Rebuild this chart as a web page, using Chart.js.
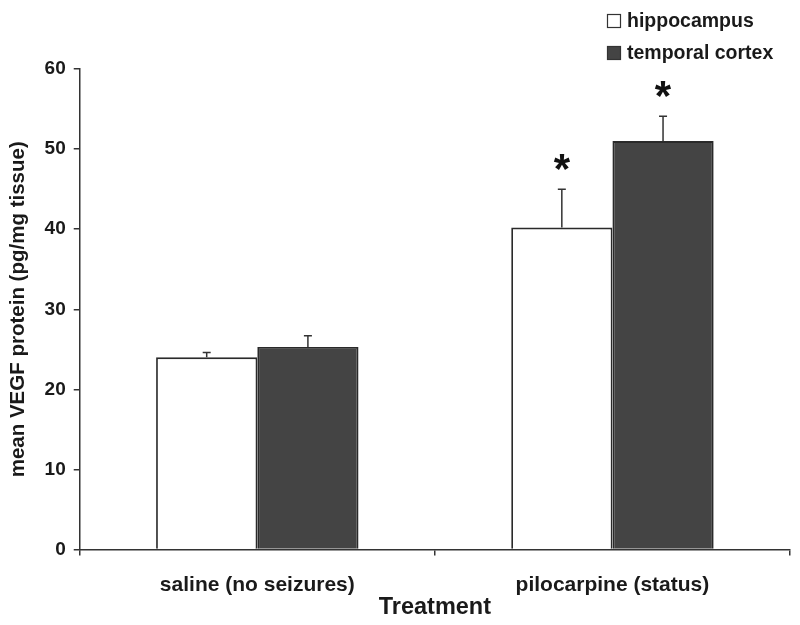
<!DOCTYPE html>
<html lang="en">
<head>
    <meta charset="UTF-8">
    <title>VEGF protein</title>
    <script src="https://cdn.jsdelivr.net/npm/chart.js"></script>
    <style>
        html, body { margin: 0; padding: 0; background: #fff; }
        #wrap { width: 800px; height: 625px; }
    </style>
</head>
<body>
    <div id="wrap"><canvas id="myChart"></canvas></div>
    <script>
        // Data
        const treatments = ['saline (no seizures)', 'pilocarpine (status)'];
        const hippocampus = [24.0, 40.2];
        const hippocampusErr = [0.6, 4.8];
        const temporalCortex = [25.3, 51.0];
        const temporalCortexErr = [1.4, 3.1];
        const hippocampusMarks = ['', '*'];
        const temporalCortexMarks = ['', '*'];

        const errors = [hippocampusErr, temporalCortexErr];
        const marks = [hippocampusMarks, temporalCortexMarks];
        const FONT = '"Liberation Sans", Arial, sans-serif';
        const INK = '#1a1a1a';

        // Upward error bars and significance stars
        const errorBars = {
            id: 'errorBars',
            afterDatasetsDraw(chart) {
                const ctx = chart.ctx;
                const y = chart.scales.y;
                chart.data.datasets.forEach(function(ds, i) {
                    const meta = chart.getDatasetMeta(i);
                    meta.data.forEach(function(bar, j) {
                        const top = y.getPixelForValue(ds.data[j] + errors[i][j]);
                        ctx.save();
                        ctx.strokeStyle = '#333';
                        ctx.lineWidth = 1.5;
                        ctx.beginPath();
                        ctx.moveTo(bar.x, bar.y);
                        ctx.lineTo(bar.x, top);
                        ctx.moveTo(bar.x - 4, top);
                        ctx.lineTo(bar.x + 4, top);
                        ctx.stroke();
                        if (marks[i][j]) {
                            ctx.fillStyle = '#111';
                            ctx.font = 'bold 42px ' + FONT;
                            ctx.textAlign = 'center';
                            ctx.textBaseline = 'middle';
                            ctx.fillText(marks[i][j], bar.x, top - 18);
                        }
                        ctx.restore();
                    });
                });
            }
        };

        // Stacked legend in the top right corner
        const stackedLegend = {
            id: 'stackedLegend',
            afterDraw(chart) {
                const ctx = chart.ctx;
                ctx.save();
                ctx.font = 'bold 19.5px ' + FONT;
                ctx.textBaseline = 'middle';
                chart.data.datasets.forEach(function(ds, i) {
                    const cy = 21 + i * 32;
                    ctx.fillStyle = ds.backgroundColor;
                    ctx.strokeStyle = '#333';
                    ctx.lineWidth = 1.2;
                    ctx.fillRect(607.5, cy - 6.5, 13, 13);
                    ctx.strokeRect(607.5, cy - 6.5, 13, 13);
                    ctx.fillStyle = INK;
                    ctx.fillText(ds.label, 627, cy + 1);
                });
                ctx.restore();
            }
        };

        const ctx = document.getElementById('myChart').getContext('2d');
        const myChart = new Chart(ctx, {
            type: 'bar',
            data: {
                labels: treatments,
                datasets: [{
                    label: 'hippocampus',
                    data: hippocampus,
                    backgroundColor: '#ffffff',
                    borderColor: '#2a2a2a',
                    borderWidth: 1.8
                }, {
                    label: 'temporal cortex',
                    data: temporalCortex,
                    backgroundColor: '#444444',
                    borderColor: '#2a2a2a',
                    borderWidth: 1.8
                }]
            },
            options: {
                responsive: true,
                maintainAspectRatio: false,
                animation: false,
                layout: { padding: { top: 69, right: 10, left: 6, bottom: 3 } },
                datasets: { bar: { categoryPercentage: 0.57, barPercentage: 1 } },
                plugins: {
                    legend: { display: false },
                    tooltip: { enabled: false }
                },
                scales: {
                    x: {
                        grid: { drawOnChartArea: false, tickLength: 6, color: '#333', lineWidth: 1.5 },
                        border: { color: '#333', width: 1.5 },
                        ticks: { color: INK, padding: 17, font: { family: FONT, size: 21, weight: 'bold' } },
                        title: { display: true, text: 'Treatment', color: INK, padding: { top: -21, bottom: 0 }, font: { family: FONT, size: 23.5, weight: 'bold' } }
                    },
                    y: {
                        min: 0,
                        max: 60,
                        ticks: { stepSize: 10, color: INK, padding: 8, font: { family: FONT, size: 19, weight: 'bold' } },
                        grid: { drawOnChartArea: false, tickLength: 6, color: '#333', lineWidth: 1.5 },
                        border: { color: '#333', width: 1.5 },
                        title: { display: true, text: 'mean VEGF protein (pg/mg tissue)', color: INK, padding: { top: 0, bottom: 6 }, font: { family: FONT, size: 20.5, weight: 'bold' } }
                    }
                }
            },
            plugins: [errorBars, stackedLegend]
        });
    </script>
</body>
</html>
